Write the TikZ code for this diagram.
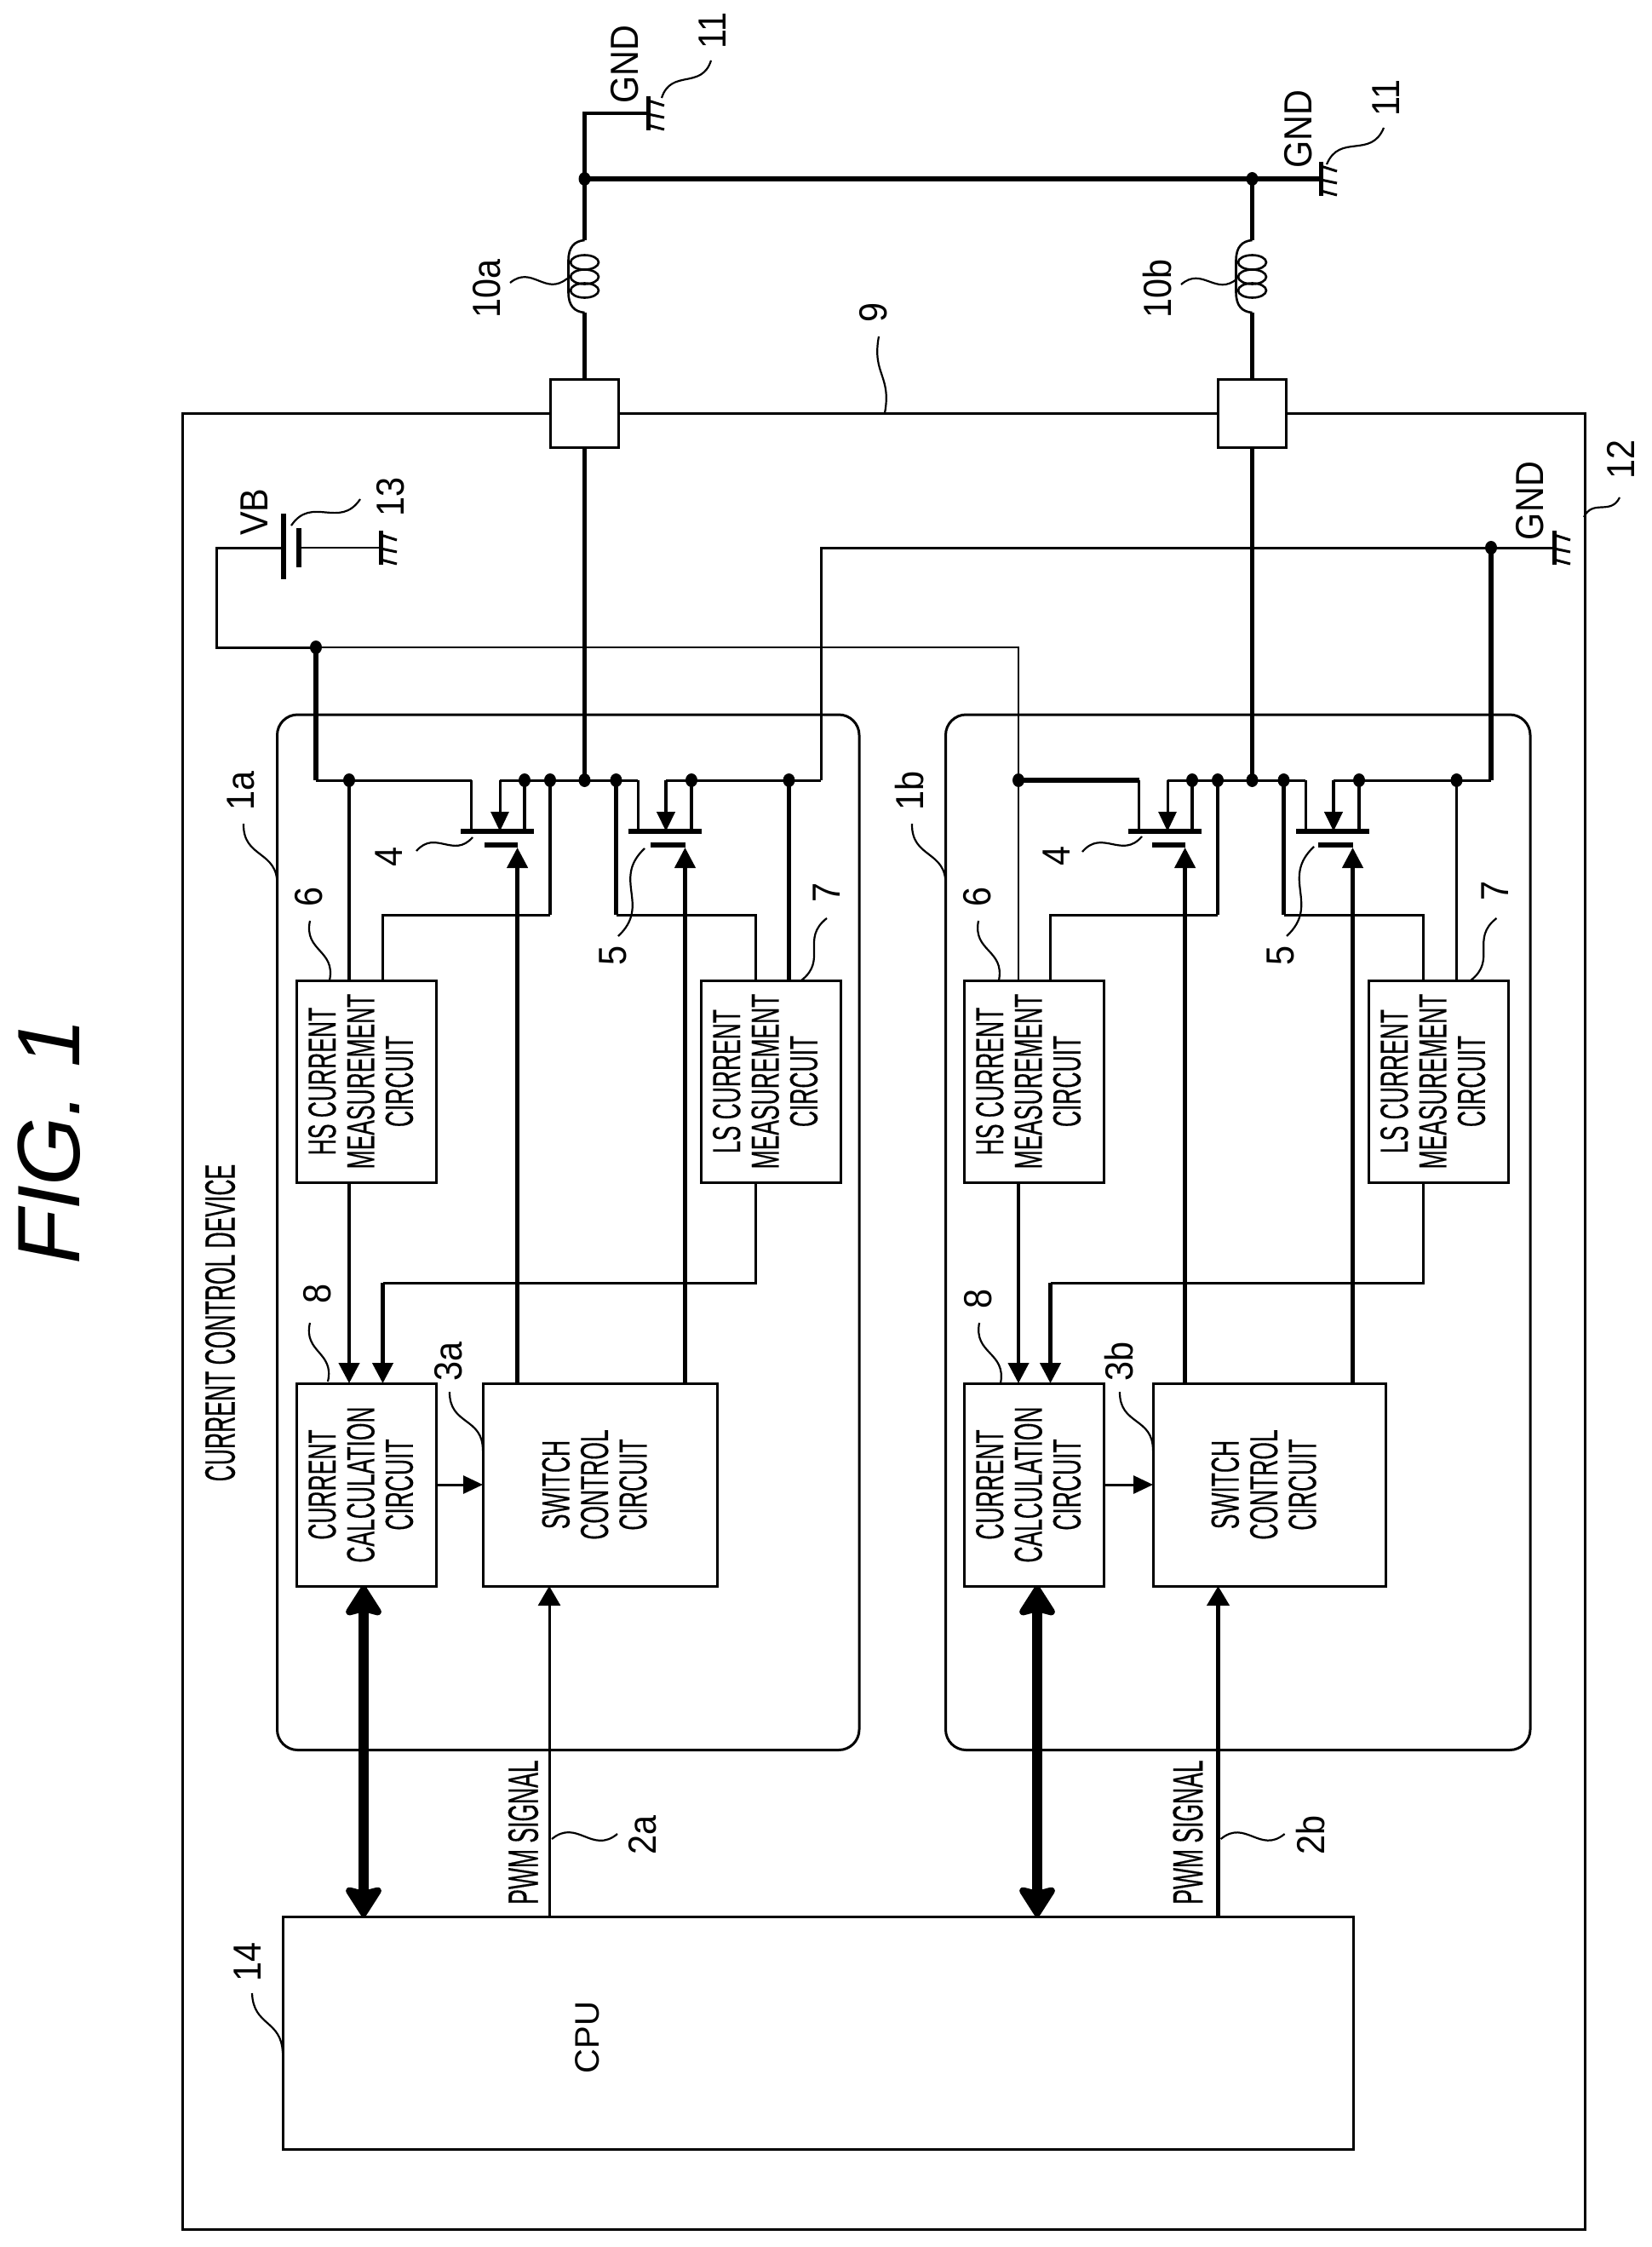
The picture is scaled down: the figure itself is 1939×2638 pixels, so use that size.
\documentclass[tikz,border=0pt]{standalone}
\usepackage{fontspec}
\usepackage{graphicx}
\setmainfont{Liberation Sans}
\newfontfamily\cond[FakeStretch=0.53,FakeBold=0.3]{Liberation Sans}
\newfontfamily\condbox[FakeStretch=0.575,FakeBold=0.3]{Liberation Sans}
\newfontfamily\regf[FakeStretch=0.9]{Liberation Sans}
\usetikzlibrary{arrows.meta,calc}
\newcommand\vtxt[1]{\rotatebox{90}{\condbox\fontsize{23}{22}\selectfont\begin{tabular}{@{}c@{}}#1\end{tabular}}}
\tikzset{
  wiret/.style={line width=1.1pt},
  wire/.style={line width=1.5pt},
  wirem/.style={line width=2.2pt},
  wirek/.style={line width=2.8pt},
  leader/.style={line width=1.1pt},
  fetbar/.style={line width=2.6pt},
  box/.style={draw,line width=1.5pt,inner sep=0pt,outer sep=0pt},
  lbl/.style={rotate=90,inner sep=0pt,font=\regf\fontsize{23}{23}\selectfont},
  condlbl/.style={rotate=90,inner sep=0pt,font=\cond\fontsize{25}{25}\selectfont},
  gtip/.style={-{Triangle[length=12pt,width=12pt]}},
  stip/.style={-{Triangle[length=11.5pt,width=10.5pt]}},
  bus/.style={line width=6.3pt,{Stealth[length=20pt,width=25pt,inset=3pt,round]}-{Stealth[length=20pt,width=25pt,inset=3pt,round]}},
}
\newcommand\bx[6]{\node[box,minimum width={((#4)-(#2))*0.5pt},minimum height={((#5)-(#3))*0.5pt}] (#1) at ({((#2)+(#4))/2},{((#3)+(#5))/2}) {#6};}
\newcommand\rbx[5]{\node[box,rounded corners=12pt,minimum width={((#4)-(#2))*0.5pt},minimum height={((#5)-(#3))*0.5pt}] (#1) at ({((#2)+(#4))/2},{((#3)+(#5))/2}) {};}
\newcommand\jdot[1]{\fill #1 circle [x radius=7,y radius=8];}
\newcommand\lab[4]{\node[lbl] (#1) at (#2,#3) {#4};}
\newcommand\squig[3][35]{\draw[leader] #2 .. controls ($#2!.5!#1:#3$) and ($#3!.5!#1:#2$) .. #3;}
\newcommand\gnd[3]{%
  \coordinate (#1) at (#2,#3);
  \draw[line width=2.5pt] ($(#1)+(0,-20)$) -- ($(#1)+(0,20)$);
  \draw[line width=1.5pt] ($(#1)+(0,-15)$) -- ($(#1)+(19,-9)$);
  \draw[line width=1.5pt] ($(#1)+(0,1)$) -- ($(#1)+(19,5)$);
  \draw[line width=1.5pt] ($(#1)+(0,14)$) -- ($(#1)+(19,19)$);
}
\newcommand\coil[2]{%
  \coordinate (ct#1) at (#2,282);
  \coordinate (cb#1) at (#2,367);
  \foreach \yy in {308,325,341} \draw[line width=1.3pt] (#2,\yy) ellipse [x radius=16.5,y radius=8.5];
  \draw[line width=1.3pt] (ct#1) .. controls ($(ct#1)+(-12,1)$) and ($(ct#1)+(-19,8)$) .. ($(ct#1)+(-19,24)$) -- ($(cb#1)+(-19,-24)$) .. controls ($(cb#1)+(-19,-8)$) and ($(cb#1)+(-12,-1)$) .. (cb#1);
}
% #1 suffix, #2 dx, #3 switch left, #4 switch right, #5 left rail style, #6 upper HS wire style, #7 LS wire style
\newcommand\chan[7]{%
  \bx{hs#1}{348+#2}{1151}{512+#2}{1388}{\vtxt{HS CURRENT\\MEASUREMENT\\CIRCUIT}}
  \bx{ls#1}{823+#2}{1151}{987+#2}{1388}{\vtxt{LS CURRENT\\MEASUREMENT\\CIRCUIT}}
  \bx{calc#1}{348+#2}{1624}{512+#2}{1862}{\vtxt{CURRENT\\CALCULATION\\CIRCUIT}}
  \bx{sw#1}{#3}{1624}{#4}{1862}{\vtxt{SWITCH\\CONTROL\\CIRCUIT}}
  \coordinate (dl#1) at ({553.6+#2},916);
  \coordinate (as#1) at ({587+#2},916);
  \coordinate (t2#1) at ({616+#2},916);
  \coordinate (t3#1) at ({646+#2},916);
  \coordinate (mid#1) at ({686.5+#2},916);
  \coordinate (t5#1) at ({723.5+#2},916);
  \coordinate (dr#1) at ({749+#2},916);
  \coordinate (ar#1) at ({782+#2},916);
  \coordinate (t6#1) at ({812+#2},916);
  \coordinate (t7#1) at ({926.5+#2},916);
  \coordinate (sa#1) at ({646+#2},1074);
  \coordinate (sb#1) at ({449.5+#2},1074);
  \coordinate (sc#1) at ({723.5+#2},1074);
  \coordinate (sd#1) at ({887+#2},1074);
  \coordinate (se#1) at ({887+#2},1506);
  \coordinate (sf#1) at ({449.5+#2},1506);
  \coordinate (ga#1) at ({607.6+#2},995);
  \coordinate (gb#1) at ({804.5+#2},995);
  % rail
  \draw[#5] (rs#1) -- (dl#1);
  \draw[wire] (as#1) -- (dr#1);
  \draw[wire] (ar#1) -- (re#1);
  % high side FET
  \draw[wire] (dl#1) -- (dl#1 |- 0,976);
  \draw[wire,stip] (as#1) -- (as#1 |- 0,976);
  \draw[wirem] (t2#1) -- (t2#1 |- 0,976);
  \draw[fetbar] ({541+#2},976) -- ({626.5+#2},976);
  \draw[fetbar] ({569+#2},992) -- ({607.6+#2},992);
  % low side FET
  \draw[wire] (dr#1) -- (dr#1 |- 0,976);
  \draw[wirem,stip] (ar#1) -- (ar#1 |- 0,976);
  \draw[wirem] (t6#1) -- (t6#1 |- 0,976);
  \draw[fetbar] ({738+#2},976) -- ({824+#2},976);
  \draw[fetbar] ({764+#2},992) -- ({805+#2},992);
  % sense wires
  \draw[#6] (hd#1) -- (hd#1 |- hs#1.north);
  \draw[wirem] (t3#1) -- (sa#1);
  \draw[wire] (sa#1) -- (sb#1) -- (sb#1 |- hs#1.north);
  \draw[wirem] (t5#1) -- (sc#1);
  \draw[wire] (sc#1) -- (sd#1) -- (sd#1 |- ls#1.north);
  \draw[#7] (t7#1) -- (t7#1 |- ls#1.north);
  % to the calculation circuit
  \draw[wirem,gtip] (hd#1 |- hs#1.south) -- (hd#1 |- calc#1.north);
  \draw[wire] (sd#1 |- ls#1.south) -- (se#1) -- (sf#1);
  \draw[wirem,gtip] (sf#1) -- (sf#1 |- calc#1.north);
  % gate drives
  \draw[wirem,gtip] (ga#1 |- sw#1.north) -- (ga#1);
  \draw[wirem,gtip] (gb#1 |- sw#1.north) -- (gb#1);
  \draw[wire,stip] (calc#1.east) -- (sw#1.west |- calc#1.east);
  \jdot{(hd#1)}\jdot{(t2#1)}\jdot{(t3#1)}\jdot{(mid#1)}\jdot{(t5#1)}\jdot{(t6#1)}\jdot{(t7#1)}
}
\begin{document}
\begin{tikzpicture}[x=0.5pt,y=-0.5pt]
\useasboundingbox (0,0) rectangle (1939,2638);
% enclosing boxes
\bx{dev}{214}{485}{1861}{2617}{}
\rbx{blka}{325.5}{839}{1009}{2054.5}
\rbx{blkb}{1110.5}{839}{1797}{2054.5}
% ports
\node[box,fill=white,minimum width=40pt,minimum height=40pt] (porta) at (686.5,485) {};
\node[box,fill=white,minimum width=40pt,minimum height=40pt] (portb) at (1470.5,485) {};
% rail ends
\coordinate (rsa) at (371,916);
\coordinate (hda) at (410,916);
\coordinate (rea) at (964,916);
\coordinate (rsb) at (1196,916);
\coordinate (hdb) at (1196,916);
\coordinate (reb) at (1751,916);
\chan{a}{0}{567}{842}{wire}{wirem}{wirem}
\chan{b}{784}{1354}{1627}{wirek}{wiret}{wiret}
% CPU and its links
\bx{cpu}{332}{2250}{1589}{2523}{}
\node[rotate=90,inner sep=0pt,font=\fontsize{20}{20}\selectfont] (cputxt) at (690,2392) {CPU};
\coordinate (busa) at (427,2250);
\coordinate (busb) at (1218,2250);
\coordinate (pwma) at (645,2250);
\coordinate (pwmb) at (1430.5,2250);
\draw[bus] (busa) -- (busa |- calca.south);
\draw[bus] (busb) -- (busb |- calcb.south);
\draw[wire,-{Triangle[length=11.5pt,width=13pt]}] (pwma) -- (pwma |- swa.south);
\draw[wirem,-{Triangle[length=11.5pt,width=13pt]}] (pwmb) -- (pwmb |- swb.south);
% load side
\coil{a}{686.5}
\coil{b}{1470.5}
\coordinate (topa) at (686.5,133);
\coordinate (joina) at (686.5,210);
\coordinate (joinb) at (1470.5,210);
\gnd{gtop}{761}{133}
\gnd{gmid}{1551}{210}
\draw[wirem] (gtop) -- (topa) -- (joina) -- (cta);
\draw[wirem] (cba) -- (porta.north);
\draw[wirek] (joina) -- (joinb) -- (gmid);
\draw[wirem] (joinb) -- (ctb);
\draw[wirem] (cbb) -- (portb.north);
\draw[wirem] (porta.south) -- (mida);
\draw[wirem] (portb.south) -- (midb);
\jdot{(joina)}\jdot{(joinb)}
% battery
\coordinate (vba) at (333,643);
\coordinate (vbb) at (351,643);
\coordinate (vbc) at (254,643);
\coordinate (vbd) at (254,760);
\coordinate (vbe) at (371,760);
\coordinate (vbf) at (1196,760);
\gnd{gbat}{447}{643}
\draw[line width=3pt] (333,603) -- (333,680);
\draw[line width=2.6pt] (351,620) -- (351,666);
\draw[wire] (vba) -- (vbc) -- (vbd) -- (vbe);
\draw[wiret] (vbe) -- (vbf) -- (hdb);
\draw[wirek] (vbe) -- (rsa);
\draw[wiret] (vbb) -- (gbat);
\jdot{(vbe)}
% supply ground
\coordinate (gla) at (964,643);
\coordinate (glb) at (1751,643);
\gnd{gsup}{1825}{643}
\draw[wire] (rea) -- (gla) -- (gsup);
\draw[wirek] (glb) -- (reb);
\jdot{(glb)}
% labels
\node[rotate=90,inner sep=0pt,font=\itshape\fontsize{52}{52}\selectfont] (figlab) at (58,1340) {FIG. 1};
\node[condlbl] (devlab) at (258.5,1553) {CURRENT CONTROL DEVICE};
\node[condlbl] (pwmla) at (614.5,2151) {PWM SIGNAL};
\node[condlbl] (pwmlb) at (1395,2151) {PWM SIGNAL};
\lab{la}{734}{76}{GND}
\lab{lb}{837}{36}{11}
\lab{lc}{1525}{152}{GND}
\lab{ld}{1628}{115}{11}
\lab{le}{572}{339}{10a}
\lab{lf}{1359}{339}{10b}
\lab{lg}{1026}{367}{9}
\lab{lh}{299}{601}{VB}
\lab{li}{459}{583}{13}
\lab{lj}{1797}{588}{GND}
\lab{lk}{1903}{539}{12}
\lab{ll}{283}{928}{1a}
\lab{lm}{1068}{928}{1b}
\lab{ln}{457}{1006}{4}
\lab{lo}{1241}{1005}{4}
\lab{lp}{720}{1122}{5}
\lab{lq}{1504}{1122}{5}
\lab{lr}{363}{1053}{6}
\lab{ls}{1148}{1053}{6}
\lab{lt}{971}{1048}{7}
\lab{lu}{1756}{1046}{7}
\lab{lv}{373}{1519}{8}
\lab{lw}{1149}{1525}{8}
\lab{lx}{527}{1598}{3a}
\lab{ly}{1314}{1598}{3b}
\lab{lz}{755}{2154}{2a}
\lab{lza}{1539}{2154}{2b}
\lab{lzb}{291}{2303}{14}
% leaders
\squig{(777,115)}{(835,71)}
\squig{(1558,193)}{(1625,150)}
\squig{(666,327)}{(599,332)}
\squig{(1453,327)}{(1387,334)}
\squig[-15]{(1039,485)}{(1032,395)}
\squig{(342,617)}{(423,586)}
\squig{(1860,607)}{(1902,584)}
\squig[-30]{(325.5,1039)}{(286,967)}
\squig[-30]{(1110.5,1039)}{(1071,967)}
\squig{(555,983)}{(489,999)}
\squig{(1341,982)}{(1271,1000)}
\squig[-30]{(757,996)}{(726,1099)}
\squig[-30]{(1543,994)}{(1511,1099)}
\squig[-30]{(387,1151)}{(364,1081)}
\squig[-30]{(1173,1151)}{(1149,1081)}
\squig[-30]{(941,1151)}{(971,1078)}
\squig[-30]{(1727,1151)}{(1757.5,1078)}
\squig[-30]{(385,1622)}{(364,1553)}
\squig[-30]{(1175,1624)}{(1150,1553)}
\squig[-30]{(567,1703)}{(528,1634)}
\squig[-30]{(1354,1703)}{(1315,1634)}
\squig{(648,2159)}{(725,2153)}
\squig{(1433.6,2159)}{(1508.6,2153)}
\squig[-25]{(332,2410)}{(296,2340)}
\end{tikzpicture}
\end{document}
